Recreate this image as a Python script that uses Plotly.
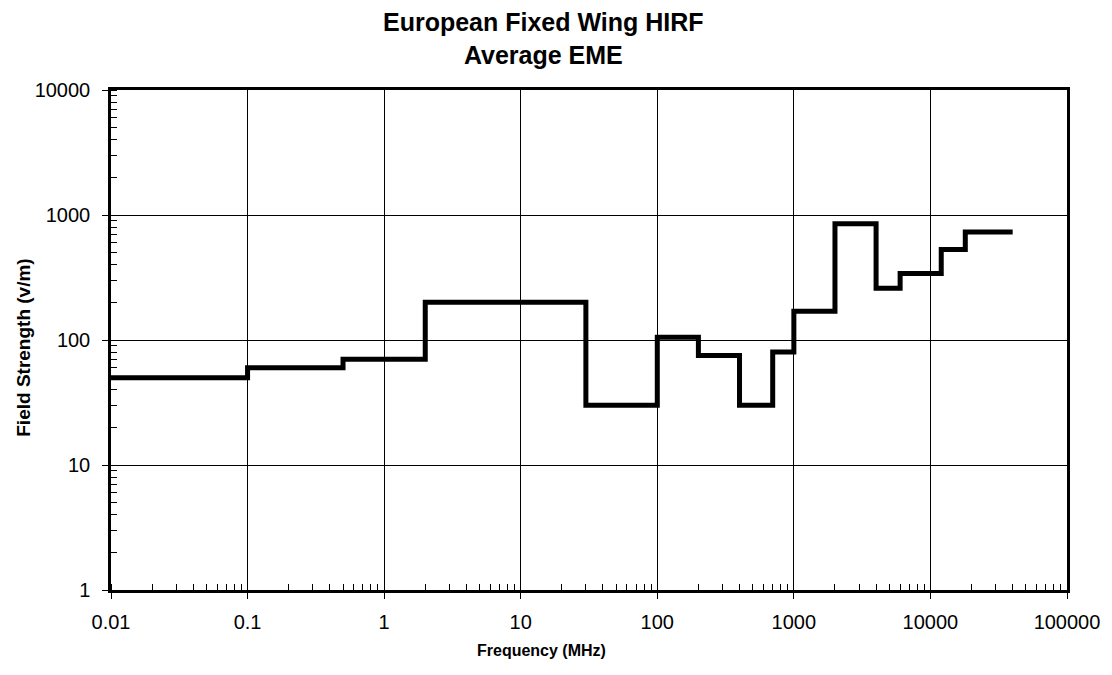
import plotly.graph_objects as go

# Band edges (MHz) and field strength (V/m) for each band
freq_edges = [0.01, 0.1, 0.5, 2, 30, 100, 200, 400, 700, 1000, 2000, 4000, 6000, 12000, 18000, 40000]
field_strength = [50, 60, 70, 200, 30, 105, 75, 30, 80, 170, 850, 260, 340, 530, 730]

x_ticks = [0.01, 0.1, 1, 10, 100, 1000, 10000, 100000]
x_tick_text = ["0.01", "0.1", "1", "10", "100", "1000", "10000", "100000"]
y_ticks = [1, 10, 100, 1000, 10000]
y_tick_text = ["1", "10", "100", "1000", "10000"]

title_lines = ["European Fixed Wing HIRF", "Average EME"]
x_title = "Frequency (MHz)"
y_title = "Field Strength (v/m)"

# step line: repeat last level to the final edge
xs = list(freq_edges)
ys = list(field_strength) + [field_strength[-1]]

fig = go.Figure()
fig.add_trace(go.Scatter(
    x=xs, y=ys, mode="lines",
    line=dict(color="black", width=5, shape="hv"),
    showlegend=False, hoverinfo="skip",
))

font_family = "Liberation Sans, Arial, sans-serif"

W, H = 1104, 667
ML, MR, MT, MB = 103, 37, 82, 85
PW, PH = W - ML - MR, H - MT - MB

fig.update_layout(
    width=W, height=H,
    paper_bgcolor="white", plot_bgcolor="white",
    margin=dict(l=ML, r=MR, t=MT, b=MB),
    font=dict(family=font_family, color="black"),
)

# Title (two lines)
fig.add_annotation(
    text="<b>" + "<br>".join(title_lines) + "</b>",
    xref="paper", yref="paper",
    x=(539 - ML) / PW, y=1 + (MT - 31) / PH,
    xanchor="center", yanchor="middle", showarrow=False,
    font=dict(family=font_family, size=25, color="black"),
)
# X axis title
fig.add_annotation(
    text="<b>" + x_title + "</b>",
    xref="paper", yref="paper",
    x=(537 - ML) / PW, y=0, yshift=-60,
    xanchor="center", yanchor="middle", showarrow=False,
    font=dict(family=font_family, size=16, color="black"),
)
# Y axis title
fig.add_annotation(
    text="<b>" + y_title + "</b>",
    xref="paper", yref="paper",
    x=(14 - ML) / PW, y=1 - (340 - MT) / PH,
    xanchor="center", yanchor="middle", textangle=-90, showarrow=False,
    font=dict(family=font_family, size=19, color="black"),
)

fig.update_xaxes(
    type="log", range=[-2, 5],
    tickvals=x_ticks, ticktext=x_tick_text,
    tickfont=dict(size=20, family=font_family, color="black"),
    ticks="outside", ticklen=6, tickcolor="black", tickwidth=1,
    ticklabelstandoff=6,
    showgrid=True, gridcolor="black", gridwidth=1,
    showline=True, linecolor="black", linewidth=2.5, mirror=True,
    minor=dict(dtick="D1", ticks="inside", ticklen=6, tickcolor="black", tickwidth=1, showgrid=False),
    zeroline=False,
)
fig.update_yaxes(
    type="log", range=[0, 4],
    tickvals=y_ticks, ticktext=y_tick_text,
    tickfont=dict(size=20, family=font_family, color="black"),
    ticks="outside", ticklen=6, tickcolor="black", tickwidth=1,
    ticklabelstandoff=8,
    showgrid=True, gridcolor="black", gridwidth=1,
    showline=True, linecolor="black", linewidth=2.5, mirror=True,
    minor=dict(dtick="D1", ticks="inside", ticklen=6, tickcolor="black", tickwidth=1, showgrid=False),
    zeroline=False,
)

fig.write_html("out.html")
